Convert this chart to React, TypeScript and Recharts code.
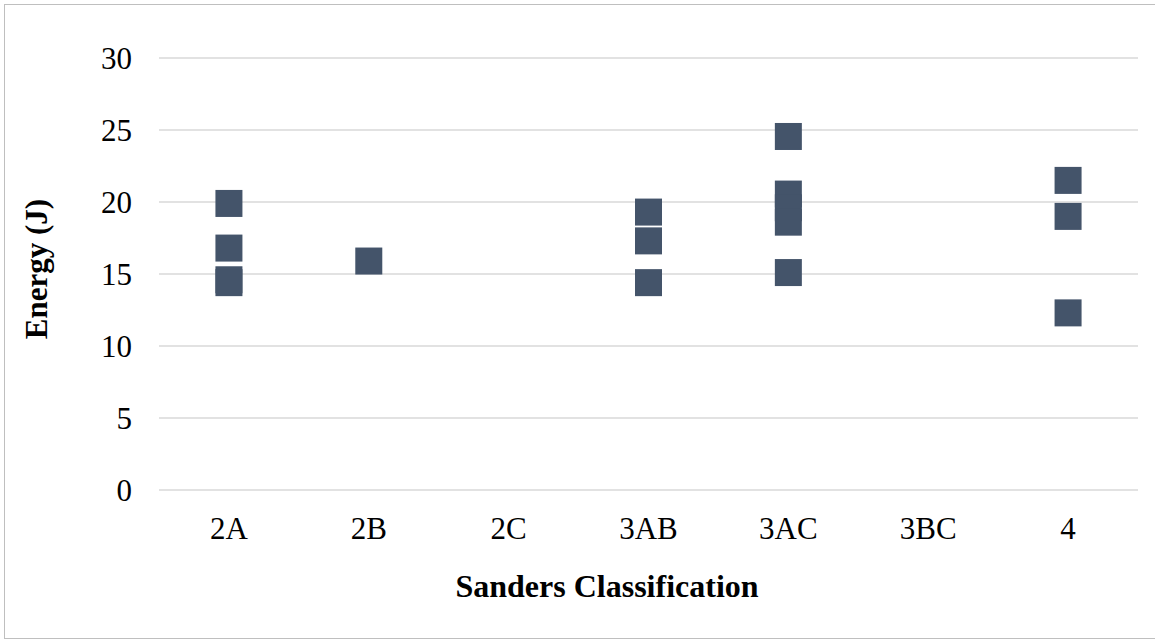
import React from 'react';
import { ScatterChart, Scatter, XAxis, YAxis, CartesianGrid } from 'recharts';

const categories = ['2A', '2B', '2C', '3AB', '3AC', '3BC', '4'];
const energy2A = [19.9, 16.8, 14.6, 14.4];
const energy2B = [15.9];
const energy2C: number[] = [];
const energy3AB = [19.3, 17.3, 14.4];
const energy3AC = [24.55, 20.55, 19.6, 18.6, 15.1];
const energy3BC: number[] = [];
const energy4 = [21.5, 19.0, 12.3];
const yTicks = [0, 5, 10, 15, 20, 25, 30];

const seriesByCategory = [energy2A, energy2B, energy2C, energy3AB, energy3AC, energy3BC, energy4];
const points = seriesByCategory.flatMap((vals, i) => vals.map((v) => ({ x: i, y: v })));

const FONT = '"Liberation Serif", "Times New Roman", serif';
const MARKER = 27;

const SquareShape = (props: any) => {
  const { cx, cy } = props;
  return <rect x={cx - MARKER / 2} y={cy - MARKER / 2} width={MARKER} height={MARKER} fill="#44546A" />;
};

export default function App() {
  return (
    <div style={{ position: 'absolute', left: 0, top: 0, width: 1155, height: 639, background: '#fff', overflow: 'hidden' }}>
      <div style={{ position: 'absolute', left: 4, top: 4, width: 1170, height: 635, border: '1px solid #bfbfbf', boxSizing: 'border-box' }} />
      <div style={{ position: 'absolute', left: 0, top: 0 }}>
        <ScatterChart width={1155} height={639} margin={{ top: 58, right: 17, bottom: 89, left: 99 }}>
          <CartesianGrid horizontal vertical={false} stroke="#d9d9d9" strokeWidth={1.5} />
          <XAxis
            type="number"
            dataKey="x"
            domain={[-0.5, 6.5]}
            ticks={[0, 1, 2, 3, 4, 5, 6]}
            tickFormatter={(i: number) => categories[i]}
            axisLine={false}
            tickLine={false}
            tickSize={0}
            tickMargin={27}
            height={60}
            interval={0}
            tick={{ fontFamily: FONT, fontSize: 31, fill: '#000' }}
          />
          <YAxis
            type="number"
            dataKey="y"
            domain={[0, 30]}
            ticks={yTicks}
            axisLine={false}
            tickLine={false}
            tickSize={0}
            tickMargin={27}
            width={60}
            interval={0}
            tick={{ fontFamily: FONT, fontSize: 31, fill: '#000' }}
          />
          <Scatter data={points} shape={SquareShape} isAnimationActive={false} />
          <text x={607} y={597} textAnchor="middle" fontFamily={FONT} fontSize={32} fontWeight="bold" fill="#000">
            Sanders Classification
          </text>
          <text x={47} y={269} textAnchor="middle" fontFamily={FONT} fontSize={31} fontWeight="bold" fill="#000" transform="rotate(-90, 47, 269)">
            Energy (J)
          </text>
        </ScatterChart>
      </div>
    </div>
  );
}
